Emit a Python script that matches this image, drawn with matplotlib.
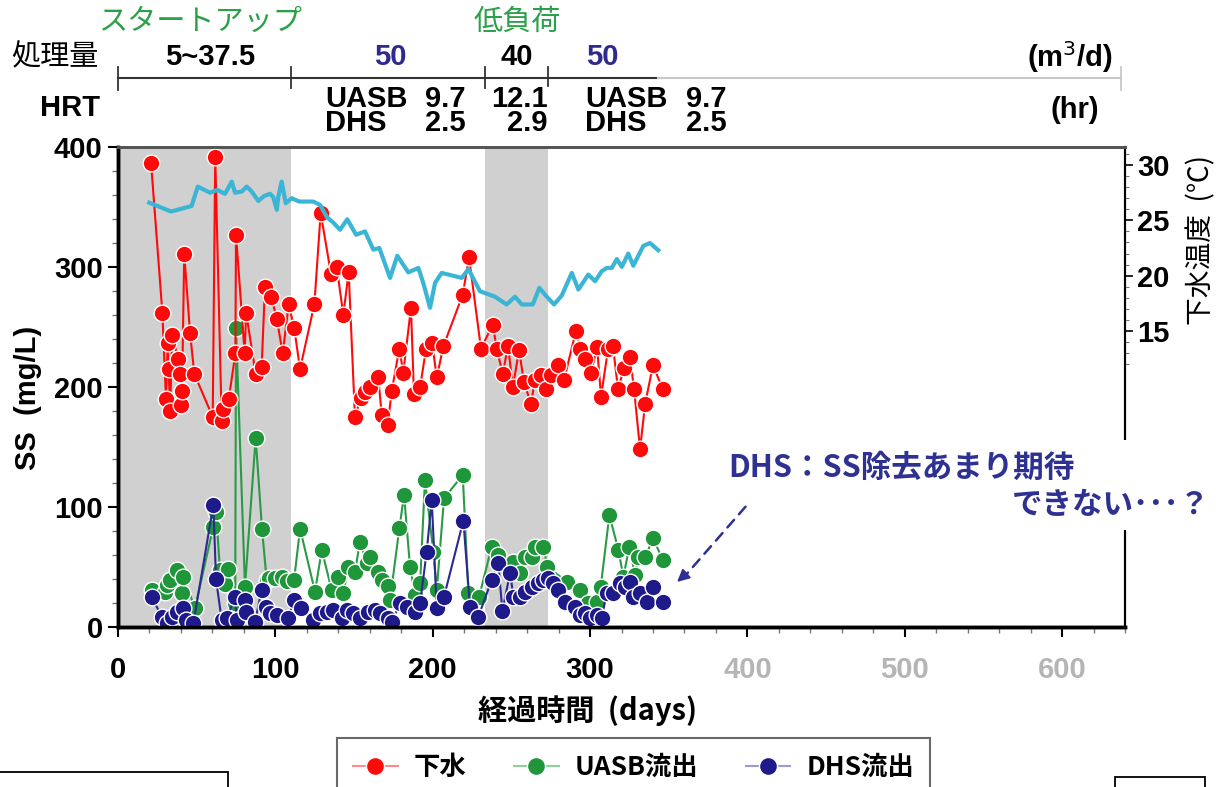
import matplotlib
matplotlib.use("Agg")
import matplotlib.pyplot as plt
from matplotlib.transforms import blended_transform_factory
from matplotlib.lines import Line2D
from matplotlib.patches import Rectangle
from matplotlib.ticker import MultipleLocator, FixedLocator

LAT = ['Liberation Sans Narrow', 'Liberation Sans', 'Noto Sans CJK JP']
JP = ['Noto Sans CJK JP', 'DejaVu Sans']
MIX = ['Liberation Sans Narrow', 'Noto Sans CJK JP']
plt.rcParams['font.family'] = LAT

# ---- data ----
sewage_day = [21.0, 28.2, 30.5, 31.6, 32.2, 33.1, 34.5, 38.3, 39.4, 39.9, 40.7, 42.1, 45.8, 48.5,
              60.2, 61.8, 65.9, 66.9, 70.4, 74.6, 75.0, 80.5, 81.4, 87.5, 91.3, 93.4, 97.4, 100.9,
              104.7, 108.5, 112.0, 115.7, 124.8, 128.8, 135.4, 139.0, 143.2, 146.6, 150.6, 154.3,
              157.0, 160.2, 165.4, 167.6, 171.4, 174.0, 178.8, 181.3, 186.2, 188.1, 192.0, 195.8,
              199.6, 202.6, 206.8, 219.1, 223.1, 230.7, 238.2, 240.7, 244.5, 247.9, 251.0, 254.9,
              258.0, 262.5, 265.0, 268.9, 272.0, 275.2, 279.7, 283.5, 291.1, 293.6, 296.8, 300.6,
              304.5, 307.0, 311.5, 314.6, 317.8, 321.6, 325.4, 328.0, 331.8, 335.0, 340.0, 346.4]
sewage_ss = [387, 262, 190, 237, 215, 180, 243, 223, 211, 185, 197, 311, 245, 211,
             175, 392, 172, 182, 190, 228, 327, 228, 262, 211, 217, 283, 275, 257,
             228, 269, 249, 215, 269, 345, 294, 300, 260, 296, 175, 191,
             196, 200, 208, 177, 168, 197, 232, 212, 266, 194, 200, 232,
             237, 208, 234, 277, 308, 232, 252, 232, 211, 234, 200, 231,
             204, 186, 206, 210, 198, 210, 218, 206, 247, 232, 223, 212,
             233, 192, 232, 234, 198, 216, 225, 198, 148, 186, 218, 198]

uasb_day = [21.4, 29.9, 31.0, 33.0, 37.3, 40.5, 41.5, 48.9, 60.6, 62.3, 64.8, 68.0, 70.1, 74.5,
            75.0, 80.7, 87.5, 91.5, 94.5, 95.8, 99.9, 104.2, 107.2, 111.9, 115.7, 125.2, 129.5,
            135.8, 140.0, 143.2, 146.4, 150.6, 153.8, 158.1, 160.2, 165.4, 167.6, 171.4, 172.9,
            178.8, 181.8, 185.6, 188.8, 192.0, 195.1, 200.4, 202.6, 207.2, 219.1, 222.7, 229.5,
            237.5, 241.7, 251.3, 255.5, 258.7, 262.9, 265.0, 270.3, 272.9, 285.2, 293.7, 298.9,
            304.3, 306.8, 312.3, 318.0, 321.2, 325.0, 328.6, 330.7, 335.0, 340.2, 346.2]
uasb_ss = [31, 29, 35, 39, 47.5, 28.6, 42, 15.6, 83.6, 96, 47.5, 36, 48, 20,
           249, 33.6, 157.5, 82, 39, 40.5, 40.5, 42, 38, 39, 82, 29.4, 64.2,
           30.8, 41.9, 28.1, 50.2, 46.1, 71.1, 53.1, 58.6, 46.1, 39.2, 34.2, 22.5,
           82.2, 110, 50.2, 26.7, 36.4, 122.5, 62.8, 30.8, 107.2, 126.7, 28.1, 25.2,
           66.9, 60, 54.4, 44.7, 58.6, 58.6, 66.9, 66.9, 50.2, 37.8, 30.8, 19.8,
           21.1, 33.6, 93.3, 64.2, 41.9, 66.9, 43.3, 58.6, 58.6, 73.9, 55.8]

dhs_day = [21.4, 27.8, 31.0, 34.1, 37.3, 41.5, 43.0, 47.9, 60.6, 62.3, 65.9, 69.1, 74.4, 75.4,
           80.7, 81.4, 87.1, 91.3, 94.1, 96.6, 100.9, 108.2, 111.9, 116.1, 124.1, 128.4, 132.7,
           136.8, 142.2, 145.4, 149.6, 153.8, 159.1, 163.4, 166.5, 171.8, 174.0, 179.2, 183.5,
           188.8, 192.0, 196.2, 199.4, 202.6, 207.2, 219.5, 223.7, 229.0, 237.5, 241.7, 244.3,
           249.2, 251.3, 255.5, 258.7, 262.9, 267.1, 270.3, 273.5, 276.7, 279.9, 284.1, 290.5,
           293.7, 296.8, 300.0, 304.3, 307.4, 310.6, 314.8, 319.1, 322.3, 325.4, 327.5, 331.8,
           336.0, 340.2, 346.6]
dhs_ss = [25.2, 8.6, 3.1, 8.6, 12.8, 16.1, 5.8, 3.1, 101.7, 39.8, 5.8, 7.3, 25.2, 5.8,
          22.5, 12.8, 4.4, 30.8, 16.9, 11.4, 10, 7.3, 22.5, 15.6, 5.8, 11.4, 12.8,
          14.2, 7.3, 14.2, 11.4, 7.3, 12.8, 14.2, 11.4, 7.3, 4.4, 19.8, 16.9,
          12.8, 19.8, 62.8, 105.8, 15.6, 25.2, 88.6, 16.9, 8.6, 39.2, 53.1, 13.3,
          45.3, 25.3, 25.3, 29.4, 33.6, 36.4, 39.2, 40.6, 36.4, 30.8, 21.1, 16.9,
          10, 11.4, 7.3, 10, 7.3, 28.1, 28.1, 36.4, 33.6, 37.8, 25.3, 28.1,
          21.1, 33.6, 21.1]

temp_day = [19.9, 33.7, 46.8, 50.7, 58.5, 63.1, 68.0, 72.3, 74.4, 78.6, 81.8, 85.0, 89.2, 92.8,
            96.6, 98.7, 100.9, 101.9, 104.0, 106.6, 110.4, 115.2, 124.1, 128.4, 132.7, 136.8,
            141.1, 145.7, 151.3, 157.0, 162.3, 166.1, 172.9, 177.5, 184.5, 190.9, 194.0, 198.3,
            201.5, 205.7, 218.5, 222.7, 230.0, 239.6, 247.0, 252.3, 256.6, 263.6, 267.8, 272.5,
            277.1, 282.0, 288.4, 292.6, 298.9, 303.2, 307.4, 310.6, 313.8, 317.0, 320.2, 324.3,
            327.5, 333.9, 338.1, 343.4]
temp_c = [26.6, 25.8, 26.3, 28.05, 27.5, 27.75, 27.4, 28.5, 27.5, 27.6, 28.05, 27.6, 26.75, 27.2,
          27.4, 27.1, 25.95, 27.15, 28.5, 26.55, 27.0, 26.7, 26.7, 26.4, 25.3, 24.8,
          24.15, 25.1, 23.7, 24.0, 22.35, 22.5, 19.8, 21.8, 20.3, 20.7, 19.35, 17.1,
          19.35, 20.25, 19.8, 20.6, 18.6, 18.1, 17.4, 18.1, 17.4, 17.4, 18.9, 18.1,
          17.4, 18.2, 20.25, 18.75, 20.1, 19.5, 20.4, 20.7, 20.7, 21.5, 20.8, 22.0,
          20.9, 22.7, 22.95, 22.3]

# operation periods (days)
startup_end = 110
lowload = (233, 273)
timeline_end = 343

RED, GREEN, NAVY, CYAN = '#ff0a0a', '#1e9639', '#1f1a8a', '#3ab5d5'
ANNOT = '#2e3192'
FS = 21

fig = plt.figure(figsize=(12.16, 7.87), dpi=100)
W, H = 1216, 787
fy = lambda px: 1 - px / H
ax = fig.add_axes([118 / W, 1 - 627 / H, (1125 - 118) / W, (627 - 147) / H])
ax2 = ax.twinx()

ax.axvspan(0, startup_end, color='#d0d0d0', lw=0, zorder=0)
ax.axvspan(*lowload, color='#d0d0d0', lw=0, zorder=0)

mk = dict(marker='o', ms=12, mec='white', mew=1.0, lw=1.5)
ax.plot(uasb_day, uasb_ss, color='#2a9a46', mfc=GREEN, zorder=3, **mk)
ax.plot(dhs_day, dhs_ss, color='#2b2a8f', mfc=NAVY, zorder=4, **mk)
ax.plot(sewage_day, sewage_ss, color=RED, mfc=RED, zorder=5, **mk)

ax2.plot(temp_day, temp_c, color=CYAN, lw=3)

ax.set_xlim(0, 640)
ax.set_ylim(0, 400)
ax2.set_ylim(-11.75, 31.63)

ax.xaxis.set_major_locator(MultipleLocator(100))
ax.xaxis.set_minor_locator(MultipleLocator(20))
ax.yaxis.set_major_locator(MultipleLocator(100))
ax.yaxis.set_minor_locator(MultipleLocator(20))
ax2.yaxis.set_major_locator(FixedLocator([15, 20, 25, 30]))
ax2.yaxis.set_minor_locator(FixedLocator(range(12, 32)))

ax.tick_params(axis='both', which='major', length=7, width=1.5, labelsize=FS, direction='out')
ax.tick_params(axis='x', which='major', pad=14)
ax.tick_params(axis='y', which='major', pad=4)
ax.tick_params(axis='both', which='minor', length=4, width=1, direction='out', color='#777777')
ax2.tick_params(axis='y', which='major', length=6, width=1.2, labelsize=FS, direction='out', pad=3)
ax2.tick_params(axis='y', which='minor', length=3, width=0.8, color='#777777')
for lab in ax.get_xticklabels() + ax.get_yticklabels() + ax2.get_yticklabels():
    lab.set_fontweight('bold')
for lab in ax.get_xticklabels():
    if float(lab.get_text().replace('−', '-') or 0) >= 400:
        lab.set_color('#b5b5b5')

for a in (ax, ax2):
    a.spines['left'].set_linewidth(2.5)
    a.spines['bottom'].set_linewidth(2.5)
    a.spines['top'].set_linewidth(2)
    a.spines['top'].set_color('#555555')
    a.spines['right'].set_linewidth(1.5)

fig.text(28 / W, fy(398), 'SS  (mg/L)', rotation=90, ha='center', va='center',
         fontsize=FS, fontweight='bold')
fig.text(588 / W, fy(711), '経過時間  (days)', ha='center', va='center',
         fontsize=FS, fontweight='bold', family=MIX)
fig.text(1201 / W, fy(240), '下水温度  (℃)', rotation=90, ha='center', va='center',
         fontsize=20, family=JP)

# ---- operation timeline above the plot ----
tr = blended_transform_factory(ax.transData, fig.transFigure)
ax.plot([0, timeline_end], [fy(78), fy(78)], transform=tr, color='#333333', lw=1.5, clip_on=False)
ax.plot([timeline_end, 637.5], [fy(78), fy(78)], transform=tr, color='#c8c8c8', lw=1.5, clip_on=False)
for d, y0, y1 in [(0, 67, 90), (startup_end, 67, 88), (lowload[0], 67, 88), (lowload[1], 67, 86)]:
    ax.plot([d, d], [fy(y0), fy(y1)], transform=tr, color='#333333', lw=1.3, clip_on=False)
ax.plot([637.5, 637.5], [fy(67), fy(90)], transform=tr, color='#c8c8c8', lw=1.3, clip_on=False)

ax.text(52, fy(22), 'スタートアップ', transform=tr, ha='center', va='center', fontsize=21,
        color='#2ca048', family=JP)
ax.text(253.5, fy(22), '低負荷', transform=tr, ha='center', va='center', fontsize=21,
        color='#2ca048', family=JP)
fig.text(55 / W, fy(57), '処理量', ha='center', va='center', fontsize=21, family=JP)
flow_labels = [(58.5, '5~37.5', 'black'), (173, '50', '#2e2a8e'), (253.6, '40', 'black'),
               (308, '50', '#2e2a8e')]
for d, s, c in flow_labels:
    ax.text(d, fy(57), s, transform=tr, ha='center', va='center', fontsize=FS,
            fontweight='bold', color=c)
ax.text(605, fy(57), '(m$^{3}$/d)', transform=tr, ha='center', va='center', fontsize=FS,
        fontweight='bold')

fig.text(70 / W, fy(108), 'HRT', ha='center', va='center', fontsize=FS, fontweight='bold')
hrt = dict(transform=tr, va='center', fontsize=FS, fontweight='bold', linespacing=0.78)
ax.text(131.5, fy(111), 'UASB\nDHS', ha='left', **hrt)
ax.text(195, fy(111), '9.7\n2.5', ha='left', **hrt)
ax.text(273, fy(111), '12.1\n2.9', ha='right', **hrt)
ax.text(297, fy(111), 'UASB\nDHS', ha='left', **hrt)
ax.text(361, fy(111), '9.7\n2.5', ha='left', **hrt)
ax.text(608, fy(110), '(hr)', transform=tr, ha='center', va='center', fontsize=FS,
        fontweight='bold')

# ---- comment ----
fig.patches.append(Rectangle((1105 / W, fy(530)), 40 / W, 90 / H, transform=fig.transFigure,
                             fc='white', ec='none', zorder=2))
fig.text(728 / W, fy(468), 'DHS：SS除去あまり期待', ha='left', va='center', fontsize=22,
         fontweight='bold', color=ANNOT, family=JP)
fig.text(1210 / W, fy(505), 'できない･･･？', ha='right', va='center', fontsize=22,
         fontweight='bold', color=ANNOT, family=JP)
ax.annotate('', xy=(358, 39), xytext=(400, 102),
            arrowprops=dict(arrowstyle='-', linestyle=(0, (4, 3)), lw=1.8, color=ANNOT))
ax.annotate('', xy=(354, 36), xytext=(360, 43),
            arrowprops=dict(arrowstyle='-|>', lw=1.5, color=ANNOT, mutation_scale=18))

# ---- legend ----
handles = [Line2D([], [], color='#ff8a8a', lw=1.5, marker='o', ms=13, mfc=RED, mec='white'),
           Line2D([], [], color='#8fcf9c', lw=1.5, marker='o', ms=13, mfc=GREEN, mec='white'),
           Line2D([], [], color='#9d9ccf', lw=1.5, marker='o', ms=13, mfc=NAVY, mec='white')]
leg = fig.legend(handles, ['下水', 'UASB流出', 'DHS流出'], loc='upper left',
                 bbox_to_anchor=(337 / W, fy(738)), bbox_transform=fig.transFigure,
                 ncol=3, frameon=True, fancybox=False, borderaxespad=0, borderpad=0.6,
                 handlelength=1.7, columnspacing=1.8, handletextpad=0.6,
                 prop=dict(family=MIX, weight='bold', size=19))
leg.get_frame().set_edgecolor('#444444')
leg.get_frame().set_linewidth(1.5)

# slide fragments at the bottom edge
fig.patches.append(Rectangle((-0.01, -0.05), 228 / W + 0.01, fy(772) + 0.05,
                             transform=fig.transFigure, fill=False, ec='black', lw=1.3))
fig.patches.append(Rectangle((1115 / W, -0.05), 90 / W, fy(777) + 0.05,
                             transform=fig.transFigure, fill=False, ec='black', lw=1.3))

fig.savefig('out.png', dpi=100)
